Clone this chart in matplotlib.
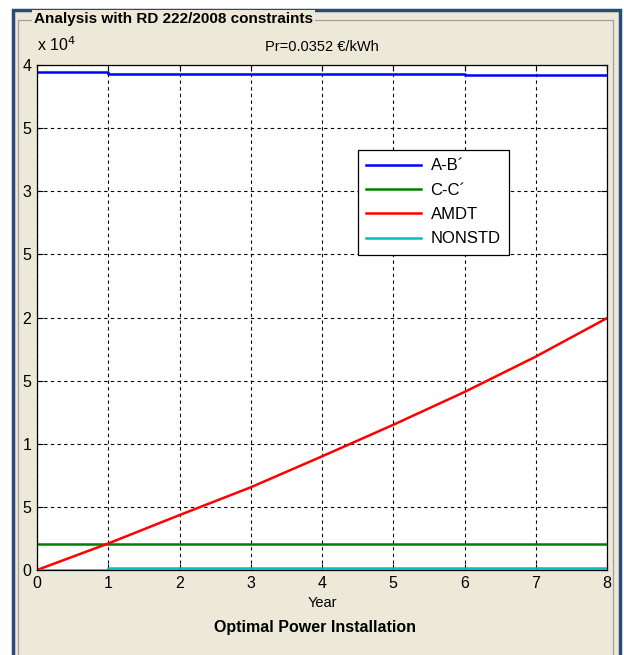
import matplotlib
matplotlib.use("Agg")
import matplotlib.pyplot as plt
from matplotlib.patches import Rectangle

plt.rcParams['font.family'] = ['Liberation Sans', 'DejaVu Sans']

years = [0, 1, 2, 3, 4, 5, 6, 7, 8]
ab = [39450, 39300, 39300, 39300, 39300, 39300, 39200, 39200, 39200]
cc = [2050, 2050, 2050, 2050, 2050, 2050, 2050, 2050, 2050]
amdt = [0, 2100, 4350, 6550, 9000, 11500, 14100, 16900, 19950]
nonstd = [0, 150, 150, 150, 150, 150, 150, 150, 150]
labels = ['A-B\u00b4', 'C-C\u00b4', 'AMDT', 'NONSTD']
ytick_vals = [0, 5000, 10000, 15000, 20000, 25000, 30000, 35000, 40000]
# left part of the labels is cut off by the panel in the original screenshot
ytick_text = ['0', '5', '1', '5', '2', '5', '3', '5', '4']

beige = '#ECE9D8'
W, H = 624, 655
fig = plt.figure(figsize=(6.24, 6.55), dpi=100)
fig.patch.set_facecolor('white')


def px(x, y):
    return x / W, 1 - y / H


# window frame and panel
x0, y0 = px(13, 670)
x1, y1 = px(620, 10)
fig.patches.append(Rectangle((x0, y0), x1 - x0, y1 - y0, transform=fig.transFigure,
                             facecolor=beige, edgecolor='#2B4A7C', linewidth=2.5, zorder=-5))
x0, y0 = px(18, 670)
x1, y1 = px(613, 20)
fig.patches.append(Rectangle((x0, y0), x1 - x0, y1 - y0, transform=fig.transFigure,
                             facecolor='none', edgecolor='#A0A0A0', linewidth=0.9, zorder=-4))
fig.text(*px(34, 19), 'Analysis with RD 222/2008 constraints', fontsize=11, fontweight='bold',
         ha='left', va='center', zorder=3,
         bbox=dict(facecolor=beige, edgecolor='none', pad=1.5))

ax = fig.add_axes([37 / W, 1 - 570 / H, 570 / W, 505 / H])
ax.set_facecolor('white')
ax.plot(years, ab, color='#0000FF', lw=1.8, drawstyle='steps-post', label=labels[0])
ax.plot(years, cc, color='#008000', lw=1.8, label=labels[1])
ax.plot(years, amdt, color='#FF0000', lw=1.8, label=labels[2])
ax.plot(years, nonstd, color='#00BFBF', lw=1.8, drawstyle='steps-post', label=labels[3])

ax.set_xlim(0, 8)
ax.set_ylim(0, 40000)
ax.set_xticks(years)
ax.set_yticks(ytick_vals)
ax.set_yticklabels(ytick_text)
ax.tick_params(direction='in', top=True, right=True, labelsize=11.5, length=4, pad=4)
ax.grid(True, color='black', linestyle=(0, (3, 3)), linewidth=0.8)
for s in ax.spines.values():
    s.set_linewidth(0.9)

ax.set_xlabel('Year', fontsize=10.5, labelpad=4)
ax.text(0.487, -0.113, 'Optimal Power Installation', transform=ax.transAxes, fontsize=11.5,
        fontweight='bold', ha='center', va='center')
ax.set_title('Pr=0.0352 \u20ac/kWh', fontsize=10.5, pad=10)
ax.text(0.0, 1.022, 'x 10$^4$', transform=ax.transAxes, fontsize=11.5, ha='left', va='bottom')

leg = ax.legend(loc='upper left', bbox_to_anchor=((358 - 37) / 570, 1 - (150 - 65) / 505),
                fontsize=12, frameon=True, fancybox=False, handlelength=3.3,
                borderpad=0.5, labelspacing=0.56, handletextpad=0.55, borderaxespad=0)
leg.get_frame().set_edgecolor('black')
leg.get_frame().set_linewidth(0.9)
leg.get_frame().set_alpha(1)

fig.savefig('out.png', dpi=100, facecolor=fig.get_facecolor())
